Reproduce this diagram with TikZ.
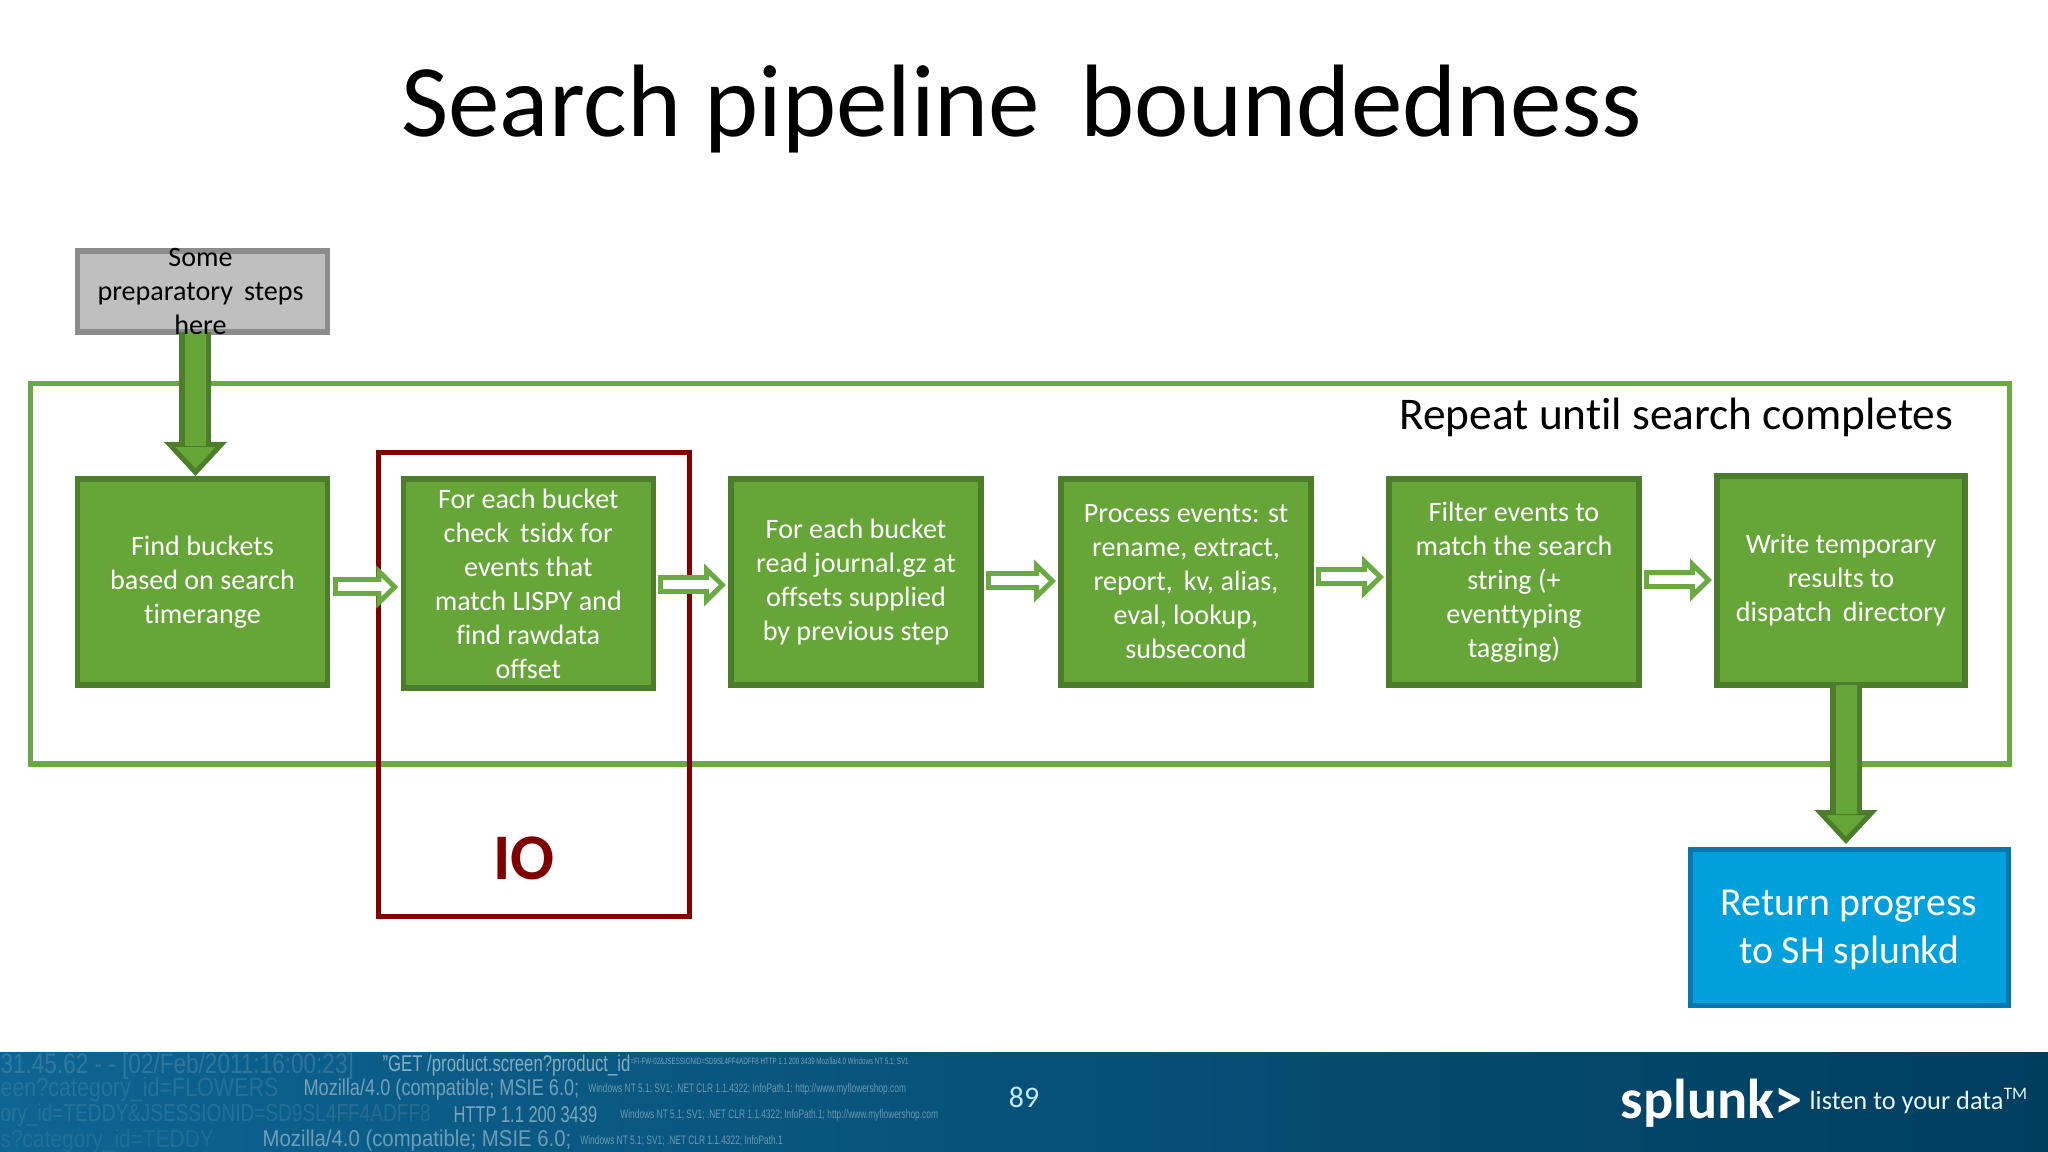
\documentclass[tikz,border=0pt]{standalone}
\usepackage{fontspec}
\setmainfont{Carlito}[Ligatures=NoCommon]
\setsansfont{Liberation Sans}
\usetikzlibrary{arrows.meta,positioning}
\definecolor{stepfill}{HTML}{66A639}
\definecolor{stepline}{HTML}{4B7D2A}
\definecolor{loopline}{HTML}{6BAA42}
\definecolor{iored}{HTML}{7F0000}
\definecolor{returnfill}{HTML}{00A0DC}
\definecolor{returnline}{HTML}{0B76AD}
\definecolor{footleft}{HTML}{0E6492}
\definecolor{footmid}{HTML}{0A699E}
\definecolor{footright}{HTML}{003E5E}
\tikzset{
  stepbox/.style={draw=stepline, fill=stepfill, line width=.055cm, text=white, align=center,
    minimum width=2.5cm, minimum height=2.06cm, inner sep=0pt, outer sep=0pt,
    font=\fontsize{8}{9.67}\selectfont},
  prepbox/.style={stepbox, draw=black!45, fill=black!25, minimum height=.81cm},
  bigarrow/.style={draw=stepline, line width=.32cm,
    -{Triangle[length=.34cm, width=.62cm, line width=.05cm, fill=stepfill, color=stepline]},
    postaction={draw=stepfill, -, line width=.21cm, shorten >=.3cm}},
  smallarrow/.style={draw=loopline, line width=.19cm, shorten <=.05cm, shorten >=.05cm,
    -{Triangle[length=.22cm, width=.42cm, line width=.05cm, fill=white, color=loopline]},
    postaction={draw=white, -, line width=.09cm, shorten <=.1cm, shorten >=.2cm}},
  logtext/.style={anchor=west, inner sep=0pt, text=white, xscale=.68, font=\fontsize{#1}{#1}\selectfont\sffamily},
}
\begin{document}
\begin{tikzpicture}
  \useasboundingbox (0,0) rectangle (20.48,-11.52);
  \shade[left color=footleft, middle color=footmid, right color=footright] (0,-10.52) rectangle (20.48,-11.52);

  % scrolling log behind the footer
  \begin{scope}
    \clip (0,-10.52) rectangle (20.48,-11.52);
    \node[logtext=8, xscale=1.18, opacity=.14] (log1a) at (0,-10.66) {31.45.62 - - [02/Feb/2011:16:00:23]};
    \node[logtext=6.5, xscale=1.08, opacity=.5] (log1b) at (3.82,-10.66) {"GET /product.screen?product\_id};
    \node[logtext=2.6, opacity=.45] (log1c) at (6.3,-10.62) {=FI-FW-02\&JSESSIONID=SD9SL4FF4ADFF8 HTTP 1.1 200 3439 Mozilla/4.0 Windows NT 5.1; SV1};
    \node[logtext=7.5, xscale=1.2, opacity=.1] (log2a) at (0,-10.9) {een?category\_id=FLOWERS};
    \node[logtext=6.5, xscale=1.17, opacity=.42] (log2b) at (3.03,-10.9) {Mozilla/4.0 (compatible; MSIE 6.0;};
    \node[logtext=3.5, opacity=.4] (log2c) at (5.88,-10.89) {Windows NT 5.1; SV1; .NET CLR 1.1.4322; InfoPath.1; http://www.myflowershop.com};
    \node[logtext=7, xscale=1.14, opacity=.1] (log3a) at (0,-11.15) {ory\_id=TEDDY\&JSESSIONID=SD9SL4FF4ADFF8};
    \node[logtext=6.5, xscale=1.06, opacity=.45] (log3b) at (4.53,-11.15) {HTTP 1.1 200 3439};
    \node[logtext=3.5, opacity=.4] (log3c) at (6.2,-11.15) {Windows NT 5.1; SV1; .NET CLR 1.1.4322; InfoPath.1; http://www.myflowershop.com};
    \node[logtext=7, xscale=1.25, opacity=.08] (log4a) at (0,-11.41) {s?category\_id=TEDDY};
    \node[logtext=6.5, xscale=1.31, opacity=.4] (log4b) at (2.62,-11.41) {Mozilla/4.0 (compatible; MSIE 6.0;};
    \node[logtext=3.5, opacity=.4] (log4c) at (5.8,-11.41) {Windows NT 5.1; SV1; .NET CLR 1.1.4322; InfoPath.1};
  \end{scope}

  \node[font=\fontsize{29.3}{34}\selectfont] (title) at (10.22,-1.09) {Search pipeline\, boundedness};

  \draw[loopline, line width=.05cm] (.3,-3.84) rectangle (20.09,-7.64);
  \node[anchor=east, inner sep=0pt, font=\fontsize{12.9}{15}\selectfont] (repeat) at (19.54,-4.17) {Repeat until search completes};

  \node[stepbox, anchor=north west] (find) at (.775,-4.79) {Find buckets\\based on search\\timerange};
  \node[stepbox, minimum height=2.09cm, right=.758cm of find, yshift=-.015cm] (tsidx) {For each bucket\\check\, tsidx for\\events that\\match LISPY and\\find rawdata\\offset};
  \node[stepbox, right=.777cm of tsidx, yshift=.015cm] (journal) {For each bucket\\read journal.gz at\\offsets supplied\\by previous step};
  \node[stepbox, right=.8cm of journal] (process) {Process events: st\\rename, extract,\\report,\, kv, alias,\\eval, lookup,\\subsecond};
  \node[stepbox, right=.78cm of process] (filter) {Filter events to\\match the search\\string (+\\eventtyping\\tagging)};
  \node[stepbox, minimum width=2.48cm, minimum height=2.09cm, right=.78cm of filter, yshift=.015cm] (write) {Write temporary\\results to\\dispatch\, directory};

  \draw[iored, line width=.05cm] (3.78,-4.53) rectangle (6.89,-9.16);
  \node[text=iored, font=\fontsize{18.5}{22}\bfseries\selectfont] (io) at (5.24,-8.58) {IO};

  \node[prepbox, anchor=north west] (prep) at (.775,-2.51) {};
  \draw[bigarrow] ([xshift=-.07cm]prep.south) -- ([xshift=-.07cm,yshift=.03cm]prep.south |- find.north);
  \node[align=center, font=\fontsize{8}{9.67}\selectfont] (preplabel) at ([xshift=-.02cm,yshift=.005cm]prep) {Some\\preparatory\, steps\\here};

  \node[draw=returnline, fill=returnfill, line width=.05cm, text=white, align=center, inner sep=0pt,
    minimum width=3.18cm, minimum height=1.56cm] (return) at (18.49,-9.275) {};
  \node[text=white, align=center, inner sep=0pt, font=\fontsize{11.3}{13.9}\selectfont] (returnlabel) at (18.49,-9.3) {Return progress\\to SH splunkd};
  \draw[bigarrow] ([xshift=.05cm]write.south) -- ([xshift=.05cm,yshift=.03cm]write.south |- return.north);

  \draw[smallarrow] ([yshift=-.05cm]find.east) -- ([yshift=-.05cm]find.east -| tsidx.west);
  \draw[smallarrow] ([yshift=-.015cm]tsidx.east) -- ([yshift=-.015cm]tsidx.east -| journal.west);
  \draw[smallarrow] ([yshift=.01cm]journal.east) -- ([yshift=.01cm]journal.east -| process.west);
  \draw[smallarrow] ([yshift=.05cm]process.east) -- ([yshift=.05cm]process.east -| filter.west);
  \draw[smallarrow] ([yshift=.02cm]filter.east) -- ([yshift=.02cm]filter.east -| write.west);

  \node[text=white!75!cyan, font=\fontsize{8.5}{10}\selectfont] (page) at (10.24,-10.97) {89};
  \node[text=white, anchor=west, inner sep=0pt, font=\fontsize{16}{20}\bfseries\selectfont] (logo) at (16.2,-11.03) {splunk>};
  \node[text=white!90!cyan, anchor=west, inner sep=0pt, font=\fontsize{7.5}{9}\selectfont] (slogan) at (18.09,-11.01) {listen to your data\textsuperscript{\tiny TM}};
\end{tikzpicture}
\end{document}
